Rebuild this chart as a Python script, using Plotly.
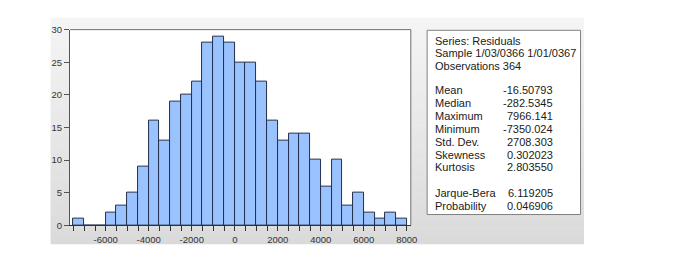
import plotly.graph_objects as go

W, H = 680, 271
OFF = 8  # page body margin offset

# ---- data ----
bin_start = -7500
bin_width = 500
counts = [1, 0, 0, 2, 3, 5, 9, 16, 13, 19, 20, 22, 28, 29, 28,
          25, 25, 22, 16, 13, 14, 14, 10, 6, 10, 3, 5, 2, 1, 2, 1]
x_tick_vals = [-6000, -4000, -2000, 0, 2000, 4000, 6000, 8000]
y_tick_vals = [0, 5, 10, 15, 20, 25, 30]
header_lines = ["Series: Residuals", "Sample 1/03/0366 1/01/0367", "Observations 364"]
stat_names = ["Mean", "Median", "Maximum", "Minimum", "Std. Dev.", "Skewness", "Kurtosis"]
stat_values = ["-16.50793", "-282.5345", "7966.141", "-7350.024", "2708.303", "0.302023", "2.803550"]
test_names = ["Jarque-Bera", "Probability"]
test_values = ["6.119205", "0.046906"]

centers = [bin_start + bin_width * (i + 0.5) for i in range(len(counts))]


def px(x):
    return (x - OFF) / W


def py(y):
    return 1 - (y - OFF) / H


FONT = "Arial, Liberation Sans, sans-serif"

fig = go.Figure()
fig.add_trace(go.Bar(
    x=centers, y=counts, width=bin_width,
    marker=dict(color="#99c2ff", line=dict(color="#22304d", width=1)),
    hoverinfo="x+y", showlegend=False,
))

shapes = []
# gradient gray background panel (stripes)
x0, x1, y0, y1 = 51, 590, 12, 248
n = 40
c_top, c_bot = 245, 218
for i in range(n):
    ya = y0 + (y1 - y0) * i / n
    yb = y0 + (y1 - y0) * (i + 1) / n
    c = round(c_top + (c_bot - c_top) * (i + 0.5) / n)
    shapes.append(dict(type="rect", xref="paper", yref="paper",
                       x0=px(x0), x1=px(x1), y0=py(min(yb + 0.5, y1)), y1=py(ya),
                       fillcolor=f"rgb({c},{c},{c})", line=dict(width=0), layer="below"))
# white plot area
pl, pr, pt, pb = 70.7, 415, 24.3, 228.3
shapes.append(dict(type="rect", xref="paper", yref="paper",
                   x0=px(pl), x1=px(pr), y0=py(pb), y1=py(pt),
                   fillcolor="white", line=dict(width=0), layer="below"))
# frame top / right
shapes.append(dict(type="line", xref="paper", yref="paper",
                   x0=px(pl), x1=px(pr), y0=py(pt), y1=py(pt),
                   line=dict(color="#707070", width=1)))
shapes.append(dict(type="line", xref="paper", yref="paper",
                   x0=px(pr), x1=px(pr), y0=py(pt), y1=py(pb),
                   line=dict(color="#707070", width=1)))
# stats box
bx0, bx1, by0, by1 = 431.5, 586.5, 25, 217
shapes.append(dict(type="rect", xref="paper", yref="paper",
                   x0=px(bx0), x1=px(bx1), y0=py(by1), y1=py(by0),
                   fillcolor="white", line=dict(color="#808080", width=1)))

annotations = []
tx = 437.3
vx = 561
line_h = 13.35


def add_text(x, y, text, anchor):
    annotations.append(dict(x=px(x), y=py(y), xref="paper", yref="paper", text=text,
                            showarrow=False, xanchor=anchor, yanchor="middle",
                            font=dict(family=FONT, size=11, color="#1a1a1a")))


y = 35.7
for t in header_lines:
    add_text(tx, y, t, "left")
    y += line_h
y = 87.7
for name, val in zip(stat_names, stat_values):
    add_text(tx, y, name, "left")
    add_text(vx, y, val, "right")
    y += line_h
y = 194.3
for name, val in zip(test_names, test_values):
    add_text(tx, y, name, "left")
    add_text(vx, y, val, "right")
    y += line_h

fig.update_layout(
    width=W, height=H,
    margin=dict(l=0, r=0, t=0, b=0),
    paper_bgcolor="white", plot_bgcolor="rgba(0,0,0,0)",
    bargap=0,
    shapes=shapes, annotations=annotations,
    font=dict(family=FONT, size=9.5, color="#333333"),
    xaxis=dict(
        domain=[px(pl), px(pr)],
        range=[-7660, 8185],
        tickvals=x_tick_vals, ticktext=[str(v) for v in x_tick_vals],
        ticks="outside", ticklen=5, tickcolor="#333333", tickwidth=1,
        minor=dict(tick0=bin_start, dtick=bin_width, ticks="outside", ticklen=5,
                   tickcolor="#333333", tickwidth=1, showgrid=False),
        showline=True, linecolor="#333333", linewidth=1,
        showgrid=False, zeroline=False, fixedrange=True,
        tickfont=dict(family=FONT, size=9.5, color="#333333"),
    ),
    yaxis=dict(
        domain=[py(pb), py(pt)],
        range=[0, 30],
        tickvals=y_tick_vals, ticktext=[str(v) for v in y_tick_vals],
        ticks="outside", ticklen=5, tickcolor="#555555", tickwidth=1,
        showline=True, linecolor="#555555", linewidth=1,
        showgrid=False, zeroline=False, fixedrange=True,
        tickfont=dict(family=FONT, size=9.5, color="#333333"),
    ),
)

fig.write_html("out.html")
